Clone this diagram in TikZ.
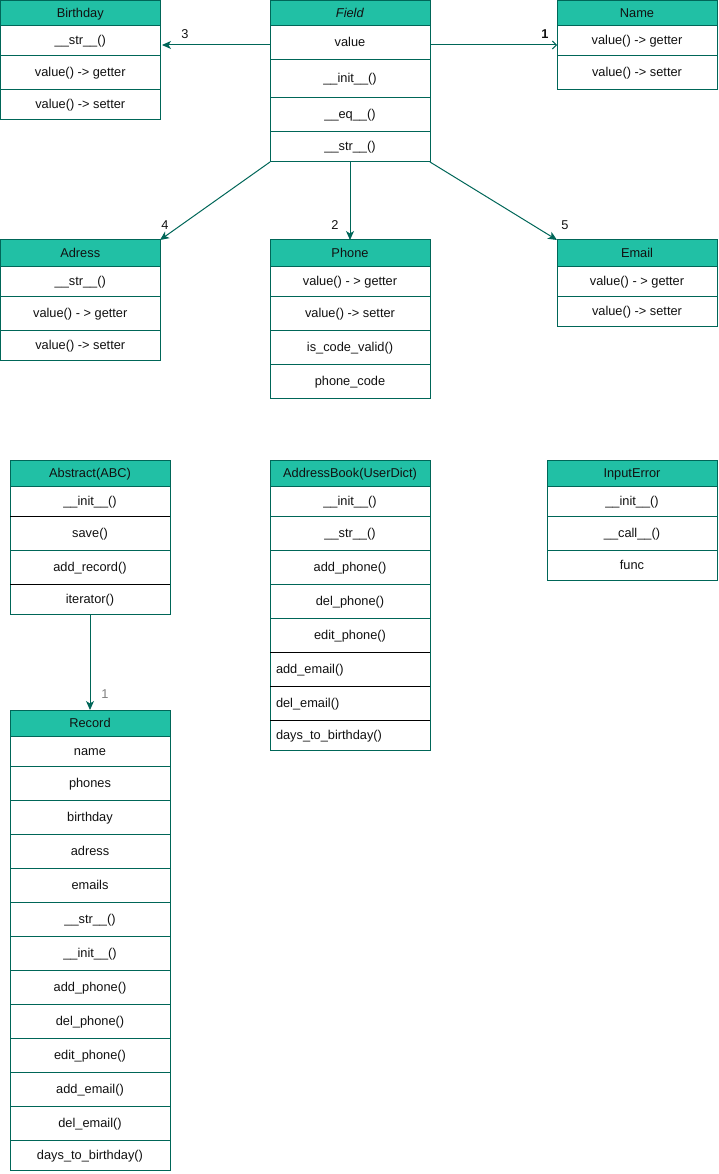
\documentclass[tikz,border=0pt]{standalone}
\usepackage{fontspec}
\setmainfont{Liberation Sans}
\usetikzlibrary{arrows.meta}
\definecolor{hdr}{HTML}{21C0A5}
\definecolor{strk}{HTML}{006658}
\definecolor{txt}{HTML}{111111}
\tikzset{
  cellbase/.style={draw=strk, line width=1pt, inner sep=0pt, outer sep=0pt, text=txt, font=\fontsize{12.8}{14}\selectfont, text height=10pt, text depth=2pt},
  hdrcell/.style={cellbase, fill=hdr},
  rowcell/.style={cellbase, fill=white},
  lrowcell/.style={cellbase, fill=white, text width=148pt, inner xsep=6pt, align=left},
  sepblack/.style={draw=black, line width=1pt},
  conn/.style={draw=strk, line width=1pt, -{Stealth[length=9pt,width=8pt,inset=2.5pt]}},
  openconn/.style={draw=strk, line width=1pt, -{Straight Barb[length=4pt,width=8pt]}},
  lbl/.style={font=\fontsize{12.8}{14}\selectfont, text=txt, inner sep=0pt},
}
\newcommand\cellbox[7]{\node[#1, minimum width={(#5-#3)*1pt}, minimum height={(#6-#4)*1pt}] (#2) at ({(#3+#5)/2},{(#4+#6)/2}) {#7};}
\begin{document}
\begin{tikzpicture}[x=1pt,y=-1pt]
\useasboundingbox (0,0) rectangle (718,1174);
% Birthday
\cellbox{hdrcell}{bday}{0.5}{0.5}{160}{26}{Birthday}
\cellbox{rowcell}{bdaystr}{0.5}{26}{160}{56}{\_\_str\_\_()}
\cellbox{rowcell}{bdayget}{0.5}{56}{160}{90}{value() -> getter}
\cellbox{rowcell}{bdayset}{0.5}{90}{160}{120}{value() -> setter}
% Field
\cellbox{hdrcell}{field}{270}{0.5}{430}{26}{\textit{Field}}
\cellbox{rowcell}{fvalue}{270}{26}{430}{60}{value}
\cellbox{rowcell}{finit}{270}{60}{430}{98}{\_\_init\_\_()}
\cellbox{rowcell}{feq}{270}{98}{430}{132}{\_\_eq\_\_()}
\cellbox{rowcell}{fstr}{270}{132}{430}{162}{\_\_str\_\_()}
% Name
\cellbox{hdrcell}{name}{557}{0.5}{717}{26}{Name}
\cellbox{rowcell}{nameget}{557}{26}{717}{56}{value() -> getter}
\cellbox{rowcell}{nameset}{557}{56}{717}{90}{value() -> setter}
% Adress
\cellbox{hdrcell}{adress}{0.5}{240}{160}{266}{Adress}
\cellbox{rowcell}{adstr}{0.5}{266}{160}{296}{\_\_str\_\_()}
\cellbox{rowcell}{adget}{0.5}{296}{160}{330}{value() - > getter}
\cellbox{rowcell}{adset}{0.5}{330}{160}{360}{value() -> setter}
% Phone
\cellbox{hdrcell}{phone}{270}{240}{430}{266}{Phone}
\cellbox{rowcell}{phget}{270}{266}{430}{296}{value() - > getter}
\cellbox{rowcell}{phset}{270}{296}{430}{330}{value() -> setter}
\cellbox{rowcell}{phvalid}{270}{330}{430}{364}{is\_code\_valid()}
\cellbox{rowcell}{phcode}{270}{364}{430}{398}{phone\_code}
% Email
\cellbox{hdrcell}{email}{557}{240}{717}{266}{Email}
\cellbox{rowcell}{emget}{557}{266}{717}{296}{value() - > getter}
\cellbox{rowcell}{emset}{557}{296}{717}{326}{value() -> setter}
% Abstract
\cellbox{hdrcell}{abs}{10}{460}{170}{486}{Abstract(ABC)}
\cellbox{rowcell}{absinit}{10}{486}{170}{516}{\_\_init\_\_()}
\cellbox{rowcell}{abssave}{10}{516}{170}{550}{save()}
\cellbox{rowcell}{absadd}{10}{550}{170}{584}{add\_record()}
\cellbox{rowcell}{absiter}{10}{584}{170}{614}{iterator()}
\draw[sepblack] (absinit.south west) -- (absinit.south east);
\draw[sepblack] (absadd.south west) -- (absadd.south east);
% AddressBook
\cellbox{hdrcell}{ab}{270}{460}{430}{486}{AddressBook(UserDict)}
\cellbox{rowcell}{abinit}{270}{486}{430}{516}{\_\_init\_\_()}
\cellbox{rowcell}{abstr}{270}{516}{430}{550}{\_\_str\_\_()}
\cellbox{rowcell}{abaddph}{270}{550}{430}{584}{add\_phone()}
\cellbox{rowcell}{abdelph}{270}{584}{430}{618}{del\_phone()}
\cellbox{rowcell}{abedph}{270}{618}{430}{652}{edit\_phone()}
\cellbox{lrowcell}{abaddem}{270}{652}{430}{686}{add\_email()}
\cellbox{lrowcell}{abdelem}{270}{686}{430}{720}{del\_email()}
\cellbox{lrowcell}{abdays}{270}{720}{430}{750}{days\_to\_birthday()}
\draw[sepblack] (abedph.south west) -- (abedph.south east);
\draw[sepblack] (abaddem.south west) -- (abaddem.south east);
\draw[sepblack] (abdelem.south west) -- (abdelem.south east);
% InputError
\cellbox{hdrcell}{ie}{547}{460}{717}{486}{InputError}
\cellbox{rowcell}{ieinit}{547}{486}{717}{516}{\_\_init\_\_()}
\cellbox{rowcell}{iecall}{547}{516}{717}{550}{\_\_call\_\_()}
\cellbox{rowcell}{iefunc}{547}{550}{717}{580}{func}
% Record
\cellbox{hdrcell}{rec}{10}{710}{170}{736}{Record}
\cellbox{rowcell}{r1}{10}{736}{170}{766}{name}
\cellbox{rowcell}{r2}{10}{766}{170}{800}{phones}
\cellbox{rowcell}{r3}{10}{800}{170}{834}{birthday}
\cellbox{rowcell}{r4}{10}{834}{170}{868}{adress}
\cellbox{rowcell}{r5}{10}{868}{170}{902}{emails}
\cellbox{rowcell}{r6}{10}{902}{170}{936}{\_\_str\_\_()}
\cellbox{rowcell}{r7}{10}{936}{170}{970}{\_\_init\_\_()}
\cellbox{rowcell}{r8}{10}{970}{170}{1004}{add\_phone()}
\cellbox{rowcell}{r9}{10}{1004}{170}{1038}{del\_phone()}
\cellbox{rowcell}{r10}{10}{1038}{170}{1072}{edit\_phone()}
\cellbox{rowcell}{r11}{10}{1072}{170}{1106}{add\_email()}
\cellbox{rowcell}{r12}{10}{1106}{170}{1140}{del\_email()}
\cellbox{rowcell}{r13}{10}{1140}{170}{1170}{days\_to\_birthday()}
% connectors
\draw[conn, shorten >=2pt] ([yshift=-2pt]fvalue.west) -- ([yshift=-2pt]fvalue.west -| bdaystr.east);
\draw[openconn] ([yshift=-2pt]fvalue.east) -- ([yshift=-2pt]fvalue.east -| nameget.west);
\draw[conn] (fstr.south west) -- (adress.north east);
\draw[conn] (fstr.south) -- (phone.north);
\draw[conn] (fstr.south east) -- (email.north west);
\draw[conn] (absiter.south) -- (rec.north);
% labels
\node[lbl] (l3) at (185,34) {3};
\node[lbl] (l1) at (545,34) {\textbf{1}};
\node[lbl] (l4) at (165,225) {4};
\node[lbl] (l2) at (335,225) {2};
\node[lbl] (l5) at (565,225) {5};
\node[lbl, text=gray] (l1b) at (105,694) {1};
\end{tikzpicture}
\end{document}
